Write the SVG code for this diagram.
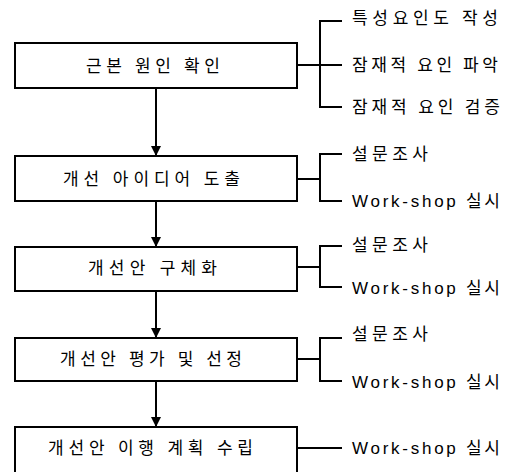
<svg xmlns="http://www.w3.org/2000/svg" width="511" height="472" viewBox="0 0 511 472">
<defs>
<style>
.box{fill:#fff;stroke:#000;stroke-width:2}
.ln{fill:none;stroke:#000;stroke-width:2}
.t{font-family:"Noto Sans CJK KR","Liberation Sans",sans-serif;font-size:17px;fill:#000}
.r{font-family:"Liberation Sans","Noto Sans CJK KR",sans-serif;font-size:17px;fill:#000}
</style>
<marker id="ah" markerWidth="10" markerHeight="10" refX="9" refY="5" orient="auto" markerUnits="userSpaceOnUse">
<path d="M0,0 L10,5 L0,10 Z" fill="#000"/>
</marker>
</defs>
<rect width="511" height="472" fill="#fff"/>
<g id="connectors">
<path class="ln" d="M156,88 V155" marker-end="url(#ah)"/>
<path class="ln" d="M156,201 V246" marker-end="url(#ah)"/>
<path class="ln" d="M156,291 V337" marker-end="url(#ah)"/>
<path class="ln" d="M156,381 V426" marker-end="url(#ah)"/>
<path class="ln" d="M297,65 H320 M342,21 H320 V107 H342 M320,65 H342"/>
<path class="ln" d="M297,179 H320 M342,154 H320 V201 H342"/>
<path class="ln" d="M297,267 H320 M342,246 H320 V287 H342"/>
<path class="ln" d="M297,359 H320 M342,338 H320 V381 H342"/>
<path class="ln" d="M297,448 H342"/>
</g>
<g id="n1"><rect class="box" x="15" y="43" width="282" height="45"/><text class="t" x="86" y="72" textLength="134" lengthAdjust="spacing">근본 원인 확인</text></g>
<g id="n2"><rect class="box" x="15" y="156" width="282" height="45"/><text class="t" x="63" y="185" textLength="177" lengthAdjust="spacing">개선 아이디어 도출</text></g>
<g id="n3"><rect class="box" x="15" y="247" width="282" height="44"/><text class="t" x="88" y="274" textLength="129" lengthAdjust="spacing">개선안 구체화</text></g>
<g id="n4"><rect class="box" x="15" y="338" width="282" height="43"/><text class="t" x="60" y="365" textLength="182" lengthAdjust="spacing">개선안 평가 및 선정</text></g>
<g id="n5"><rect class="box" x="15" y="427" width="282" height="50"/><text class="t" x="48" y="454" textLength="205" lengthAdjust="spacing">개선안 이행 계획 수립</text></g>
<g id="l1a"><text class="t" x="352" y="24" textLength="146" lengthAdjust="spacing">특성요인도 작성</text></g>
<g id="l1b"><text class="t" x="352" y="71" textLength="146" lengthAdjust="spacing">잠재적 요인 파악</text></g>
<g id="l1c"><text class="t" x="352" y="113" textLength="148" lengthAdjust="spacing">잠재적 요인 검증</text></g>
<g id="l2a"><text class="t" x="352" y="160" textLength="76" lengthAdjust="spacing">설문조사</text></g>
<g id="l2b"><text class="r" x="352" y="207" textLength="148" lengthAdjust="spacing">Work-shop 실시</text></g>
<g id="l3a"><text class="t" x="352" y="251" textLength="76" lengthAdjust="spacing">설문조사</text></g>
<g id="l3b"><text class="r" x="352" y="294" textLength="148" lengthAdjust="spacing">Work-shop 실시</text></g>
<g id="l4a"><text class="t" x="352" y="340" textLength="76" lengthAdjust="spacing">설문조사</text></g>
<g id="l4b"><text class="r" x="352" y="388" textLength="148" lengthAdjust="spacing">Work-shop 실시</text></g>
<g id="l5"><text class="r" x="352" y="454" textLength="148" lengthAdjust="spacing">Work-shop 실시</text></g>
</svg>
